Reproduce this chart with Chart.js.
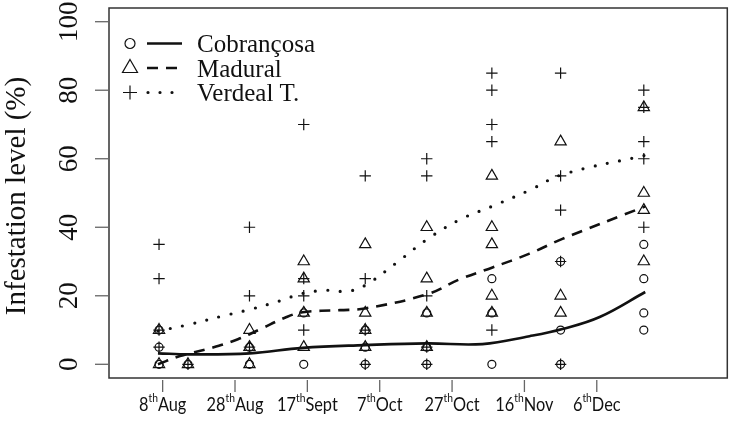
<!DOCTYPE html>
<html>
<head>
<meta charset="utf-8">
<script src="https://cdn.jsdelivr.net/npm/chart.js@4.4.1/dist/chart.umd.min.js"></script>
<style>
  html, body { margin: 0; padding: 0; background: #fff; }
  #wrap { width: 735px; height: 424px; position: relative; }
</style>
</head>
<body>
<div id="wrap"><canvas id="chart"></canvas></div>
<script>
// sampling dates, days after 8th Aug
const sampleDays = [-1, 7, 24, 39, 56, 73, 91, 110, 133];

// observed infestation (%) per sampling date
const cobObs = [[10, 5, 0], [0], [5, 0], [15, 0], [10, 5, 0], [15, 5, 0], [25, 15, 0], [30, 10, 0], [35, 25, 15, 10]];
const madObs = [[10, 0], [0], [10, 5, 0], [30, 25, 15, 5], [35, 15, 10, 5], [40, 25, 15, 5], [55, 40, 35, 20, 15], [65, 20, 15], [75, 50, 45, 30]];
const verObs = [[35, 25, 10, 5], [0], [40, 20, 5], [70, 25, 20, 10], [55, 25, 10, 0], [60, 55, 20, 5, 0], [85, 80, 70, 65, 10], [85, 55, 45, 30, 0], [80, 75, 65, 60, 40]];

// smoothed trends
const cobCurveX = [-1.3, 7.3, 24.1, 38.7, 55.9, 73.0, 88.4, 101.4, 110.5, 120.8, 133.4];
const cobCurveY = [3.2, 2.9, 3.2, 4.8, 5.6, 6.1, 5.9, 8.2, 10.3, 13.8, 21.1];
const madCurveX = [-1.3, 4.8, 13.9, 20.8, 26.9, 33.8, 38.7, 49.0, 55.9, 73.0, 82.1, 91.0, 101.4, 110.5, 133.4];
const madCurveY = [0, 2.4, 4.9, 7.3, 10.2, 13.6, 15.2, 15.8, 16.3, 20.4, 24.8, 28.2, 32.3, 36.6, 46.1];
const verCurveX = [-1.3, 7.6, 16.6, 24.1, 32.4, 38.7, 45.4, 51.0, 55.9, 64.6, 73.0, 82.1, 91.0, 101.4, 110.5, 133.4];
const verCurveY = [9.7, 11.7, 14.1, 16.0, 18.5, 20.7, 21.6, 21.3, 23.0, 29.6, 36.4, 42.2, 46.1, 50.8, 55.4, 61.0];

const xTickDays = [0, 20, 40, 60, 80, 100, 120];
const xTickNum = ['8', '28', '17', '7', '27', '16', '6'];
const xTickMonth = ['Aug', 'Aug', 'Sept', 'Oct', 'Oct', 'Nov', 'Dec'];
const yTicks = [0, 20, 40, 60, 80, 100];

const seriesNames = ['Cobrançosa', 'Madural', 'Verdeal T.'];

function toPoints(days, obs) {
  const pts = [];
  obs.forEach((vals, i) => vals.forEach(v => pts.push({ x: days[i], y: v })));
  return pts;
}
function toLine(xs, ys) {
  return xs.map((x, i) => ({ x: x, y: ys[i] }));
}

const ink = '#111';
const serif = '"Liberation Serif", "Times New Roman", serif';

const axesPlugin = {
  id: 'rAxes',
  afterDraw(chart) {
    const ctx = chart.ctx;
    const a = chart.chartArea;
    const xs = chart.scales.x, ys = chart.scales.y;
    ctx.save();
    // box
    ctx.strokeStyle = '#333';
    ctx.lineWidth = 1.5;
    ctx.strokeRect(a.left, a.top, a.right - a.left, a.bottom - a.top);

    // y ticks + labels
    ctx.strokeStyle = '#666';
    ctx.lineWidth = 1.3;
    ctx.fillStyle = '#111';
    ctx.font = '27px ' + serif;
    yTicks.forEach(v => {
      const py = ys.getPixelForValue(v);
      ctx.beginPath();
      ctx.moveTo(a.left - 14, py);
      ctx.lineTo(a.left, py);
      ctx.stroke();
      ctx.save();
      ctx.translate(77, py);
      ctx.rotate(-Math.PI / 2);
      ctx.textAlign = 'center';
      ctx.textBaseline = 'alphabetic';
      ctx.fillText(String(v), 0, 0);
      ctx.restore();
    });

    // y title
    ctx.save();
    ctx.translate(25, 196);
    ctx.rotate(-Math.PI / 2);
    ctx.font = '29px ' + serif;
    ctx.textAlign = 'center';
    ctx.fillText('Infestation level (%)', 0, 0);
    ctx.restore();

    // x ticks + labels with superscript
    const big = '19px Lato, "Open Sans", sans-serif';
    const small = '12px Lato, "Open Sans", sans-serif';
    xTickDays.forEach((d, i) => {
      const px = xs.getPixelForValue(d);
      ctx.beginPath();
      ctx.moveTo(px, a.bottom + 2);
      ctx.lineTo(px, a.bottom + 14);
      ctx.stroke();
      ctx.font = big;
      const w1 = ctx.measureText(xTickNum[i]).width;
      const w3 = ctx.measureText(xTickMonth[i]).width;
      ctx.font = small;
      const w2 = ctx.measureText('th').width;
      ctx.save();
      ctx.translate(px, 0);
      ctx.scale(0.86, 1);
      const x0 = -(w1 + w2 + w3) / 2;
      ctx.textAlign = 'left';
      ctx.textBaseline = 'alphabetic';
      ctx.font = big;
      ctx.fillText(xTickNum[i], x0, 411);
      ctx.font = small;
      ctx.fillText('th', x0 + w1, 402);
      ctx.font = big;
      ctx.fillText(xTickMonth[i], x0 + w1 + w2, 411);
      ctx.restore();
    });

    // legend
    const rows = [43.5, 68, 92.5];
    ctx.strokeStyle = ink;
    ctx.lineWidth = 1.2;
    ctx.beginPath(); ctx.arc(130, rows[0], 5, 0, Math.PI * 2); ctx.stroke();
    ctx.beginPath();
    ctx.moveTo(130, rows[1] - 8.5);
    ctx.lineTo(130 + 7.5, rows[1] + 4.5);
    ctx.lineTo(130 - 7.5, rows[1] + 4.5);
    ctx.closePath(); ctx.stroke();
    ctx.beginPath();
    ctx.moveTo(123, rows[2]); ctx.lineTo(137, rows[2]);
    ctx.moveTo(130, rows[2] - 7); ctx.lineTo(130, rows[2] + 7);
    ctx.stroke();
    const dashes = [[], [11, 8], [0, 12]];
    const widths = [2.6, 2.6, 3.2];
    rows.forEach((ry, i) => {
      ctx.beginPath();
      ctx.setLineDash(dashes[i]);
      ctx.lineCap = i === 2 ? 'round' : 'butt';
      ctx.lineWidth = widths[i];
      ctx.moveTo(i === 2 ? 148 : 147, ry);
      ctx.lineTo(182, ry);
      ctx.stroke();
    });
    ctx.setLineDash([]);
    ctx.font = '25px ' + serif;
    ctx.fillStyle = '#111';
    ctx.textAlign = 'left';
    rows.forEach((ry, i) => ctx.fillText(seriesNames[i], 197, ry + 8.5));
    ctx.restore();
  }
};

const pointBase = {
  showLine: false,
  borderColor: ink,
  backgroundColor: 'rgba(0,0,0,0)',
  pointBorderWidth: 1.2,
  pointHoverRadius: 0
};

new Chart(document.getElementById('chart'), {
  type: 'scatter',
  data: {
    datasets: [
      Object.assign({ label: seriesNames[0] + ' obs', data: toPoints(sampleDays, cobObs), pointStyle: 'circle', pointRadius: 4 }, pointBase),
      Object.assign({ label: seriesNames[1] + ' obs', data: toPoints(sampleDays, madObs), pointStyle: 'triangle', pointRadius: 6.5 }, pointBase),
      Object.assign({ label: seriesNames[2] + ' obs', data: toPoints(sampleDays, verObs), pointStyle: 'cross', pointRadius: 5.7 }, pointBase),
      {
        label: seriesNames[0], data: toLine(cobCurveX, cobCurveY), showLine: true,
        borderColor: ink, borderWidth: 2.6, pointRadius: 0, tension: 0.4, fill: false
      },
      {
        label: seriesNames[1], data: toLine(madCurveX, madCurveY), showLine: true,
        borderColor: ink, borderWidth: 2.6, borderDash: [11, 8], pointRadius: 0, tension: 0.4, fill: false
      },
      {
        label: seriesNames[2], data: toLine(verCurveX, verCurveY), showLine: true,
        borderColor: ink, borderWidth: 3.2, borderDash: [0, 12.5], borderCapStyle: 'round',
        pointRadius: 0, tension: 0.4, fill: false
      }
    ]
  },
  options: {
    responsive: true,
    maintainAspectRatio: false,
    animation: false,
    events: [],
    layout: { padding: { left: 109, top: 8, right: 7, bottom: 46 } },
    scales: {
      x: { type: 'linear', min: -14.83, max: 156.08, display: false },
      y: { type: 'linear', min: -4, max: 104, display: false }
    },
    plugins: {
      legend: { display: false },
      tooltip: { enabled: false }
    }
  },
  plugins: [axesPlugin]
});
</script>
</body>
</html>
